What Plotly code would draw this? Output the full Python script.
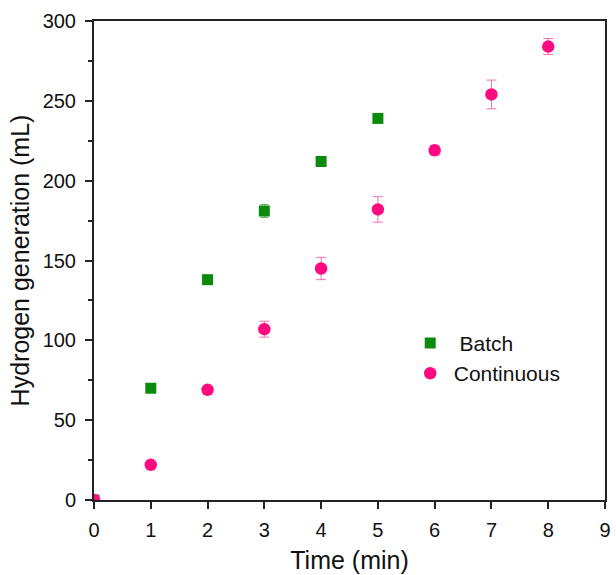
import plotly.graph_objects as go

batch_x = [0, 1, 2, 3, 4, 5]
batch_y = [0, 70, 138, 181, 212, 239]
batch_err = [0, 1, 1, 4, 1, 1]

cont_x = [0, 1, 2, 3, 4, 5, 6, 7, 8]
cont_y = [0, 22, 69, 107, 145, 182, 219, 254, 284]
cont_err = [0, 1, 2, 5, 7, 8, 3, 9, 5]

green = "#0a8c0a"
pink = "#ff0a80"
pink_err = "#f070b0"
FONT = "Liberation Sans, Arial"

fig = go.Figure()
fig.add_trace(go.Scatter(
    x=batch_x, y=batch_y, mode="markers", name=" Batch",
    marker=dict(symbol="square", size=11, color=green),
    error_y=dict(type="data", array=batch_err, color="#5aaa5a", thickness=1, width=4),
))
fig.add_trace(go.Scatter(
    x=cont_x, y=cont_y, mode="markers", name="Continuous",
    marker=dict(symbol="circle", size=12.5, color=pink),
    error_y=dict(type="data", array=cont_err, color=pink_err, thickness=1, width=5),
))

axis_common = dict(
    showline=True, linecolor="#222", linewidth=2, mirror=True,
    ticks="outside", ticklen=7, tickwidth=2, tickcolor="#222",
    showgrid=False, zeroline=False,
    tickfont=dict(family=FONT, size=20, color="#111"),
)

fig.update_xaxes(range=[0, 9], dtick=1, ticklabelstandoff=4, **axis_common,
                 title=dict(text="Time (min)", font=dict(family=FONT, size=25, color="#111"), standoff=11))
fig.update_yaxes(range=[0, 300], dtick=50, ticklabelstandoff=5, **axis_common,
                 minor=dict(dtick=25, ticks="outside", ticklen=4, tickwidth=2, tickcolor="#222"),
                 title=dict(text="Hydrogen generation (mL)", font=dict(family=FONT, size=25, color="#111"), standoff=6))

fig.update_layout(
    width=616, height=575,
    margin=dict(l=94, r=5, t=21, b=73),
    plot_bgcolor="white", paper_bgcolor="white",
    legend=dict(x=0.612, y=0.37, xanchor="left", yanchor="top",
                font=dict(family=FONT, size=21, color="#111"),
                bgcolor="rgba(0,0,0,0)", itemsizing="trace", tracegroupgap=0,
                itemwidth=37),
    showlegend=True,
)

fig.write_html("out.html")
